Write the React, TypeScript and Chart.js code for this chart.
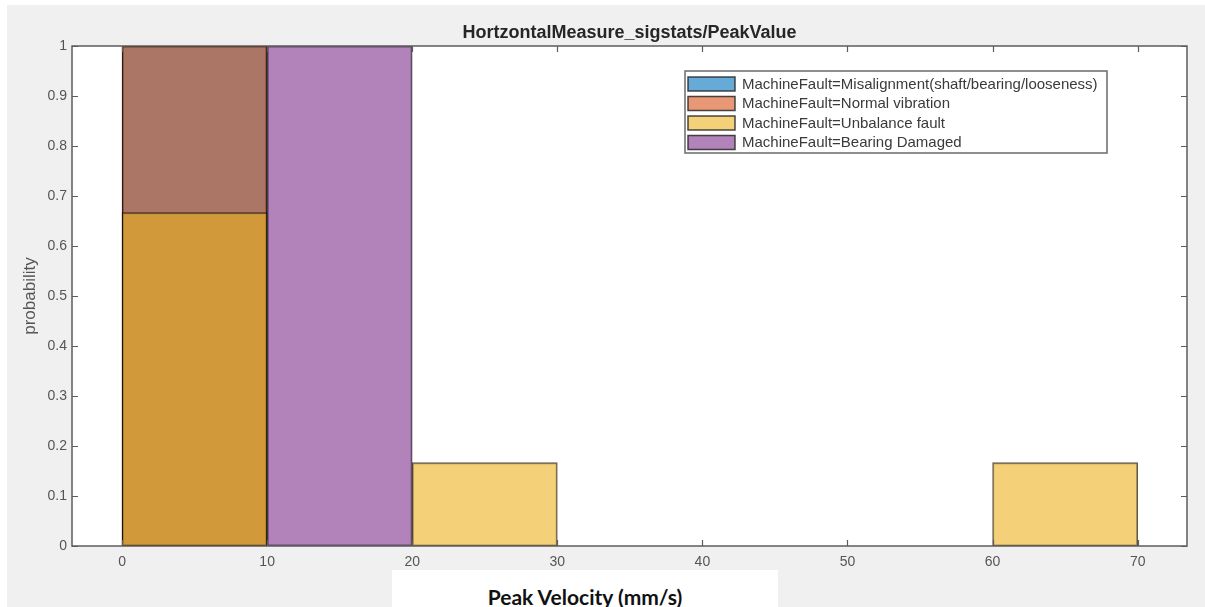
import React, { useEffect, useRef } from "react";
import { Chart, registerables } from "chart.js";

Chart.register(...registerables);

const binCenters = [5, 15, 25, 35, 45, 55, 65];
const misalignment = [1, 0, 0, 0, 0, 0, 0];
const normalVibration = [1, 0, 0, 0, 0, 0, 0];
const unbalance = [0.6667, 0, 0.1667, 0, 0, 0, 0.1667];
const bearingDamaged = [0, 1, 0, 0, 0, 0, 0];
const seriesNames = [
  "MachineFault=Misalignment(shaft/bearing/looseness)",
  "MachineFault=Normal vibration",
  "MachineFault=Unbalance fault",
  "MachineFault=Bearing Damaged",
];
const seriesColors = [
  "rgba(0,114,189,0.6)",
  "rgba(217,83,25,0.6)",
  "rgba(237,177,32,0.6)",
  "rgba(126,47,142,0.6)",
];
const xTicks = [0, 10, 20, 30, 40, 50, 60, 70];
const yTicks = [0, 0.1, 0.2, 0.3, 0.4, 0.5, 0.6, 0.7, 0.8, 0.9, 1];
const titleText = "HortzontalMeasure_sigstats/PeakValue";
const yLabel = "probability";
const xLabel = "Peak Velocity (mm/s)";

const AXIS_COLOR = "#5c5c5c";
const TEXT_COLOR = "#555555";
const FONT = "'Liberation Sans', Arial, sans-serif";

const framePlugin = {
  id: "frame",
  beforeDraw(chart: any) {
    const { ctx, width, height, chartArea } = chart;
    ctx.save();
    ctx.fillStyle = "#ffffff";
    ctx.fillRect(0, 0, width, height);
    ctx.fillStyle = "#f0f0f0";
    ctx.fillRect(7, 5, width - 7, height - 5);
    ctx.fillStyle = "#ffffff";
    ctx.fillRect(chartArea.left, chartArea.top, chartArea.right - chartArea.left, chartArea.bottom - chartArea.top);
    ctx.restore();
  },
  afterDatasetsDraw(chart: any) {
    const { ctx, chartArea, scales } = chart;
    const { left, right, top, bottom } = chartArea;
    const xs = scales.x;
    const ys = scales.y;
    ctx.save();
    // box
    ctx.strokeStyle = AXIS_COLOR;
    ctx.lineWidth = 1.5;
    ctx.strokeRect(left, top, right - left, bottom - top);
    // inward ticks
    ctx.lineWidth = 1.2;
    const tl = 6;
    ctx.beginPath();
    xTicks.forEach((v) => {
      const px = Math.round(xs.getPixelForValue(v)) + 0.5;
      ctx.moveTo(px, bottom);
      ctx.lineTo(px, bottom - tl);
      ctx.moveTo(px, top);
      ctx.lineTo(px, top + tl);
    });
    yTicks.forEach((v) => {
      const py = Math.round(ys.getPixelForValue(v)) + 0.5;
      ctx.moveTo(left, py);
      ctx.lineTo(left + tl, py);
      ctx.moveTo(right, py);
      ctx.lineTo(right - tl, py);
    });
    ctx.stroke();

    // title
    ctx.fillStyle = "#262626";
    ctx.font = "bold 18px " + FONT;
    ctx.textAlign = "center";
    ctx.textBaseline = "middle";
    ctx.fillText(titleText, (left + right) / 2, 33);

    // y label
    ctx.save();
    ctx.translate(30, (top + bottom) / 2);
    ctx.rotate(-Math.PI / 2);
    ctx.fillStyle = TEXT_COLOR;
    ctx.font = "17px " + FONT;
    ctx.fillText(yLabel, 0, 0);
    ctx.restore();

    // legend
    const lx = 685, ly = 71, lw = 422, lh = 82;
    ctx.fillStyle = "#ffffff";
    ctx.fillRect(lx, ly, lw, lh);
    ctx.strokeStyle = "#6a6a6a";
    ctx.lineWidth = 1.5;
    ctx.strokeRect(lx, ly, lw, lh);
    ctx.font = "15px " + FONT;
    ctx.textAlign = "left";
    ctx.textBaseline = "middle";
    seriesNames.forEach((name, i) => {
      const cy = ly + 13 + i * 19.5;
      ctx.fillStyle = "#ffffff";
      ctx.fillRect(lx + 3, cy - 7, 47, 14);
      ctx.fillStyle = seriesColors[i];
      ctx.fillRect(lx + 3, cy - 7, 47, 14);
      ctx.strokeStyle = "rgba(40,40,40,0.85)";
      ctx.lineWidth = 1.5;
      ctx.strokeRect(lx + 3, cy - 7, 47, 14);
      ctx.fillStyle = "#3a3a3a";
      ctx.fillText(name, lx + 57, cy + 0.5);
    });
    ctx.restore();
  },
};

export default function App() {
  const ref = useRef<HTMLCanvasElement | null>(null);
  useEffect(() => {
    if (!ref.current) return;
    const allSeries = [misalignment, normalVibration, unbalance, bearingDamaged];
    const chart = new Chart(ref.current, {
      type: "bar",
      data: {
        datasets: allSeries.map((vals, i) => ({
          label: seriesNames[i],
          data: binCenters.map((c, j) => ({ x: c, y: vals[j] === 0 ? null : vals[j] })),
          backgroundColor: seriesColors[i],
          borderColor: "rgba(0,0,0,0.65)",
          borderWidth: 1.2,
          borderSkipped: false,
          grouped: false,
          categoryPercentage: 1,
          barPercentage: 1,
          order: 4 - i,
        })) as any,
      },
      options: {
        animation: false,
        responsive: false,
        maintainAspectRatio: false,
        layout: { padding: { left: 0, right: 18, top: 46, bottom: 0 } },
        plugins: {
          legend: { display: false },
          title: { display: false },
          tooltip: { enabled: false },
        },
        scales: {
          x: {
            type: "linear",
            offset: false,
            min: -3.45,
            max: 73.4,
            grid: { display: false, drawTicks: false, tickLength: 0 },
            border: { display: false },
            afterBuildTicks: (s: any) => {
              s.ticks = xTicks.map((v) => ({ value: v }));
            },
            afterFit: (s: any) => {
              s.height = 61;
            },
            ticks: {
              padding: 8,
              color: TEXT_COLOR,
              font: { family: FONT, size: 14 },
              maxRotation: 0,
              autoSkip: false,
            },
          },
          y: {
            type: "linear",
            min: 0,
            max: 1,
            grid: { display: false, drawTicks: false, tickLength: 0 },
            border: { display: false },
            afterBuildTicks: (s: any) => {
              s.ticks = yTicks.map((v) => ({ value: v }));
            },
            afterFit: (s: any) => {
              s.width = 72;
            },
            ticks: {
              padding: 5,
              color: TEXT_COLOR,
              font: { family: FONT, size: 14 },
              callback: (v: any) => String(Math.round(Number(v) * 10) / 10),
              autoSkip: false,
            },
          },
        },
      },
      plugins: [framePlugin],
    });
    return () => chart.destroy();
  }, []);

  return (
    <div style={{ position: "fixed", left: 0, top: 0, width: 1205, height: 607, overflow: "hidden" }}>
      <canvas ref={ref} width={1205} height={607} style={{ display: "block", width: 1205, height: 607 }} />
      <div
        style={{
          position: "absolute",
          left: 392,
          top: 570,
          width: 386,
          height: 37,
          background: "#ffffff",
          display: "flex",
          alignItems: "flex-start",
          justifyContent: "center",
          fontFamily: "Lato, 'Open Sans', sans-serif",
          fontWeight: 700,
          fontSize: 21,
          lineHeight: "21px",
          color: "#111111",
          paddingTop: 16,
          boxSizing: "border-box",
        }}
      >
        {xLabel}
      </div>
    </div>
  );
}
